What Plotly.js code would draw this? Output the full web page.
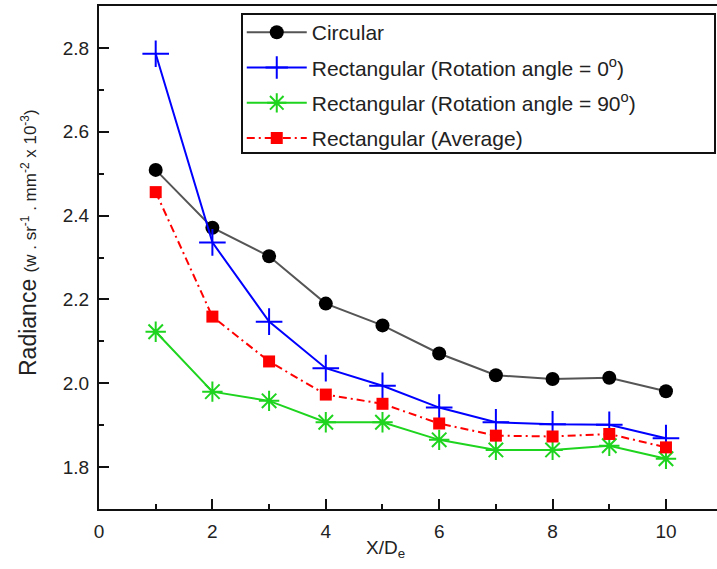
<!DOCTYPE html>
<html>
<head>
<meta charset="utf-8">
<script src="https://cdn.plot.ly/plotly-3.0.1.min.js"></script>
<style>html,body{margin:0;padding:0;background:#fff;}#chart{width:717px;height:569px;}</style>
</head>
<body>
<div id="chart"></div>
<script>
var xRatio = [1, 2, 3, 4, 5, 6, 7, 8, 9, 10];
var circular = [2.509, 2.371, 2.303, 2.190, 2.138, 2.071, 2.019, 2.010, 2.013, 1.981];
var rect0 = [2.786, 2.336, 2.147, 2.036, 1.994, 1.942, 1.907, 1.902, 1.901, 1.869];
var rect90 = [2.123, 1.980, 1.958, 1.907, 1.907, 1.865, 1.841, 1.841, 1.851, 1.820];
var rectAvg = [2.456, 2.159, 2.052, 1.973, 1.951, 1.904, 1.875, 1.873, 1.879, 1.847];
var seriesNames = ['Circular', 'Rectangular (Rotation angle = 0<sup>o</sup>)', 'Rectangular (Rotation angle = 90<sup>o</sup>)', 'Rectangular (Average)'];
var xMajorTicks = [0, 2, 4, 6, 8, 10];
var yMajorTicks = [1.8, 2.0, 2.2, 2.4, 2.6, 2.8];

var FONT = '"Liberation Sans", Arial, Helvetica, sans-serif';
var traces = [
  {x: xRatio, y: circular, name: seriesNames[0], mode: 'lines+markers', legendgroup: 'a',
   line: {color: '#555555', width: 2}, marker: {symbol: 'circle', size: 14, color: '#000000'}},
  {x: xRatio, y: rect0, name: seriesNames[1], mode: 'lines+markers', legendgroup: 'b',
   line: {color: '#0000ff', width: 2}, marker: {symbol: 'cross-thin-open', size: 19, color: '#0000ff', line: {color: '#0000ff', width: 2}}},
  {x: xRatio, y: rect90, name: seriesNames[2], mode: 'lines+markers', legendgroup: 'c',
   line: {color: '#1ed41e', width: 2}, marker: {symbol: 'asterisk-open', size: 17, color: '#1ed41e', line: {color: '#1ed41e', width: 2}}},
  {x: xRatio, y: rectAvg, name: seriesNames[3], mode: 'lines+markers', legendgroup: 'd',
   line: {color: '#ff0000', width: 2, dash: '8px,4px,2px,4px'}, marker: {symbol: 'square', size: 12, color: '#ff0000'}}
];

var layout = {
  width: 717, height: 569,
  margin: {l: 99, r: 0, t: 6, b: 60},
  paper_bgcolor: '#ffffff', plot_bgcolor: '#ffffff',
  font: {family: FONT, color: '#222222', size: 19},
  showlegend: true,
  legend: {
    x: 0.231, y: 0.988, xanchor: 'left', yanchor: 'top',
    bgcolor: 'rgba(0,0,0,0)', borderwidth: 0,
    font: {family: FONT, size: 21, color: '#222222'},
    itemwidth: 60, tracegroupgap: 5, traceorder: 'grouped'
  },
  xaxis: {
    range: [0, 10.9], tickvals: xMajorTicks, ticktext: xMajorTicks.map(String),
    ticks: 'inside', ticklen: 10, tickwidth: 2, tickcolor: '#111111',
    minor: {dtick: 1, tick0: 0, ticks: 'inside', ticklen: 5, tickwidth: 2, tickcolor: '#111111'},
    showline: true, linewidth: 2, linecolor: '#111111', mirror: true,
    showgrid: false, zeroline: false, ticklabelstandoff: 4,
    tickfont: {family: FONT, size: 19, color: '#222222'}
  },
  yaxis: {
    range: [1.7, 2.9], tickvals: yMajorTicks, ticktext: yMajorTicks.map(function (v) { return v.toFixed(1); }),
    ticks: 'inside', ticklen: 10, tickwidth: 2, tickcolor: '#111111',
    minor: {dtick: 0.1, tick0: 1.7, ticks: 'inside', ticklen: 5, tickwidth: 2, tickcolor: '#111111'},
    showline: true, linewidth: 2, linecolor: '#111111', mirror: false,
    showgrid: false, zeroline: false, ticklabelstandoff: 4,
    tickfont: {family: FONT, size: 19, color: '#222222'}
  },
  shapes: [
    {type: 'rect', xref: 'paper', yref: 'paper',
     x0: (242 - 99) / 618, x1: (715 - 99) / 618, y0: 1 - (153 - 6) / 503, y1: 1 - (14 - 6) / 503,
     line: {color: '#111111', width: 2}, fillcolor: '#ffffff', layer: 'above'}
  ],
  annotations: [
    {xref: 'paper', yref: 'paper', x: (385 - 99) / 618, y: -(549 - 509) / 503, xanchor: 'center', yanchor: 'middle',
     text: 'X/D<sub>e</sub>', showarrow: false, font: {family: FONT, size: 19, color: '#222222'}},
    {xref: 'paper', yref: 'paper', x: (28 - 99) / 618, y: 1 - (243 - 6) / 503, xanchor: 'center', yanchor: 'middle',
     textangle: -90, showarrow: false,
     text: 'Radiance <span style="font-size:17px">(w . sr<sup>-1</sup> . mm<sup>-2</sup> x 10<sup>-3</sup>)</span>',
     font: {family: FONT, size: 23, color: '#222222'}}
  ]
};

Plotly.newPlot('chart', traces, layout, {displayModeBar: false});
</script>
</body>
</html>
